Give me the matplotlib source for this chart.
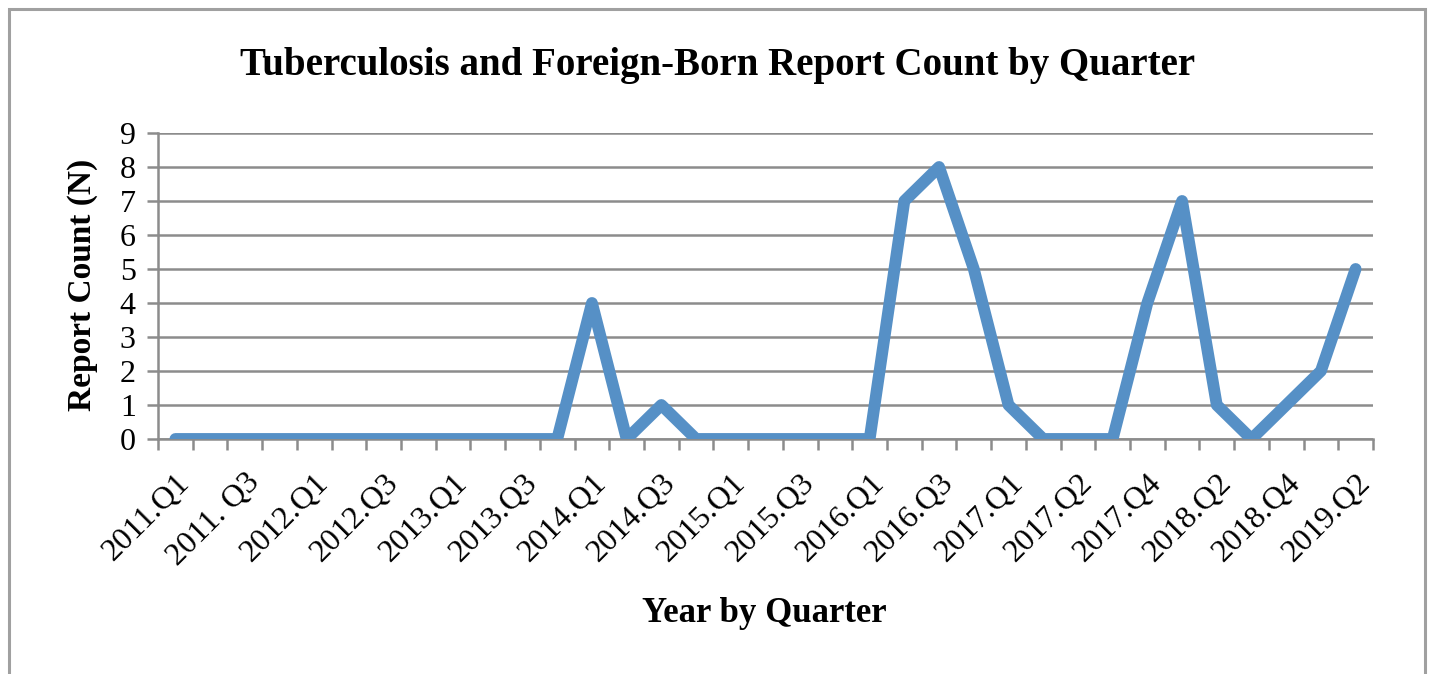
import matplotlib.pyplot as plt
from matplotlib.patches import Rectangle

# report counts, one per category on the axis (35 categories)
counts = [0, 0, 0, 0, 0, 0, 0, 0, 0, 0, 0, 0,
          4, 0, 1, 0, 0, 0, 0, 0, 0,
          7, 8, 5, 1, 0, 0, 0,
          4, 7, 1, 0, 1, 2, 5]

# every other category carries a label
tick_labels = ["2011.Q1", "2011. Q3", "2012.Q1", "2012.Q3", "2013.Q1", "2013.Q3",
               "2014.Q1", "2014.Q3", "2015.Q1", "2015.Q3", "2016.Q1", "2016.Q3",
               "2017.Q1", "2017.Q2", "2017.Q4", "2018.Q2", "2018.Q4", "2019.Q2"]

serif = "Liberation Serif"
grid_color = "#8c8c8c"

fig = plt.figure(figsize=(14.29, 6.74), dpi=100)
ax = fig.add_axes([0.1106, 0.3487, 0.8502, 0.454])

x = list(range(len(counts)))
ax.plot(x, counts, color="#5690c6", linewidth=8.5, solid_joinstyle="round",
        solid_capstyle="round", zorder=3)

ax.set_xlim(-0.5, len(counts) - 0.5)
ax.set_ylim(0, 9)
ax.set_yticks(range(0, 10))
ax.yaxis.grid(True, color=grid_color, linewidth=1.8)
ax.set_axisbelow(True)

# tick marks between categories, labels under every other category
ax.set_xticks([i - 0.5 for i in range(len(counts) + 1)])
ax.set_xticklabels([])
ax.set_xticks(x[::2], minor=True)
ax.set_xticklabels(tick_labels, minor=True, rotation=45, ha="right",
                   rotation_mode="anchor", fontsize=23, family=serif)
ax.tick_params(axis="x", which="minor", length=0, pad=21)
ax.tick_params(axis="x", which="major", length=8, width=1.8, color=grid_color)
ax.tick_params(axis="y", length=8, width=1.8, color=grid_color, pad=8,
               labelsize=23)
for lbl in ax.get_yticklabels():
    lbl.set_family(serif)

for side in ["top", "right"]:
    ax.spines[side].set_visible(False)
for side in ["left", "bottom"]:
    ax.spines[side].set_color(grid_color)
    ax.spines[side].set_linewidth(1.8)

fig.text(0.502, 0.903, "Tuberculosis and Foreign-Born Report Count by Quarter",
         ha="center", va="center", fontsize=28, fontweight="bold", family=serif)
fig.text(0.058, 0.577, "Report Count (N)", ha="center", va="center",
         rotation=90, fontsize=24, fontweight="bold", family=serif)
fig.text(0.535, 0.09, "Year by Quarter", ha="center", va="center",
         fontsize=25, fontweight="bold", family=serif)

# outer chart border
fig.patches.append(Rectangle((0.0065, -0.02), 0.9905, 1.0065, transform=fig.transFigure,
                             fill=False, edgecolor="#a0a0a0", linewidth=2.2))

fig.savefig("out.png", dpi=100)
